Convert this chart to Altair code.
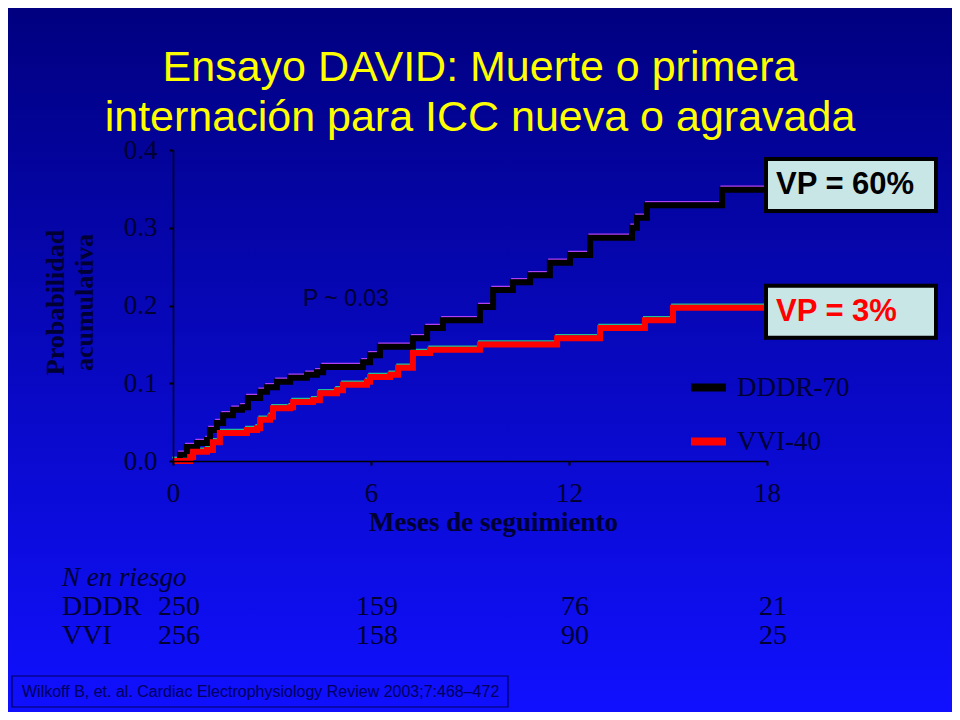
import altair as alt
import pandas as pd

# ---------------- data ----------------
title_lines = ["Ensayo DAVID: Muerte o primera", "internación para ICC nueva o agravada"]

series_names = ["DDDR-70", "VVI-40"]
series_colors = ["#000000", "#ff0000"]
shadow_colors = ["#b040f0", "#20c090"]

dddr_months = [0, 0.21, 0.42, 0.73, 1.03, 1.12, 1.33, 1.52, 1.82, 2.09, 2.27, 2.64, 2.85,
               3.15, 3.55, 4.06, 4.36, 4.55, 5.76, 5.97, 6.27, 7.27, 7.70, 8.18, 9.30,
               9.70, 10.30, 10.82, 11.42, 12.03, 12.64, 13.91, 14.06, 14.36, 16.64, 18]
dddr_prob = [0, 0.008, 0.018, 0.023, 0.027, 0.040, 0.049, 0.059, 0.066, 0.069, 0.081,
             0.089, 0.095, 0.102, 0.107, 0.111, 0.114, 0.121, 0.127, 0.136, 0.147, 0.158,
             0.171, 0.181, 0.198, 0.220, 0.230, 0.239, 0.255, 0.265, 0.287, 0.300, 0.313,
             0.329, 0.349, 0.349]

vvi_months = [0, 0.52, 0.61, 1.03, 1.21, 1.42, 2.24, 2.55, 2.64, 2.94, 3.03, 3.55, 3.64,
              4.24, 4.45, 4.97, 5.15, 5.88, 5.97, 6.58, 6.82, 7.27, 7.79, 9.30, 11.64,
              12.94, 14.30, 15.15, 18]
vvi_prob = [0, 0.005, 0.012, 0.014, 0.024, 0.036, 0.040, 0.042, 0.053, 0.057, 0.068,
            0.069, 0.076, 0.078, 0.087, 0.091, 0.098, 0.102, 0.108, 0.111, 0.120, 0.139,
            0.143, 0.150, 0.158, 0.171, 0.181, 0.197, 0.197]

x_ticks = [0, 6, 12, 18]
y_ticks = [0.0, 0.1, 0.2, 0.3, 0.4]

vp_labels = ["VP = 60%", "VP = 3%"]
vp_centers = [0.355, 0.192]

p_label = "P ~ 0.03"

risk_header = "N en riesgo"
risk_groups = ["DDDR", "VVI"]
risk_months = [0, 6, 12, 18]
risk_dddr = [250, 159, 76, 21]
risk_vvi = [256, 158, 90, 25]

citation = "Wilkoff B, et. al. Cardiac Electrophysiology Review 2003;7:468\u2013472"

# ---------------- layout ----------------
W, H = 594, 311
PAD = {"left": 165, "top": 142, "right": 185, "bottom": 251}
SERIF = "Liberation Serif"
SANS = "Liberation Sans"
DARK = "#000033"

curves = pd.concat([
    pd.DataFrame({"month": dddr_months, "prob": dddr_prob, "series": series_names[0]}),
    pd.DataFrame({"month": vvi_months, "prob": vvi_prob, "series": series_names[1]}),
], ignore_index=True)

one = pd.DataFrame({"a": [0]})

xscale = alt.Scale(domain=[0, 18], nice=False, zero=False)
yscale = alt.Scale(domain=[0, 0.4], nice=False, zero=False)

bg = alt.Chart(one).mark_rect(
    fill=alt.Gradient(
        gradient="linear",
        stops=[alt.GradientStop(color="#000080", offset=0),
               alt.GradientStop(color="#1010ff", offset=1)],
        x1=0, x2=0, y1=0, y2=1,
    )
).encode(
    x=alt.value(-PAD["left"]), x2=alt.value(W + PAD["right"]),
    y=alt.value(-PAD["top"]), y2=alt.value(H + PAD["bottom"]),
)

x_axis = alt.Axis(
    values=x_ticks, title="Meses de seguimiento", grid=False, zindex=1,
    domainColor="#000000", domainWidth=1.5, tickColor="#000000", tickWidth=2, tickSize=4,
    labelFont=SERIF, labelFontSize=27, labelColor=DARK, labelPadding=15,
    labelFlush=False, labelOverlap=False, labelBound=False,
    titleFont=SERIF, titleFontSize=27, titleFontWeight="bold", titleColor=DARK,
    titleX=320, titleY=61, titleBaseline="middle", titleAlign="center",
)
y_axis = alt.Axis(
    values=y_ticks, format=".1f", title=["Probabilidad", "acumulativa"], grid=False, zindex=1,
    domainColor="#000000", domainWidth=1.5, tickColor="#000000", tickWidth=2, tickSize=4,
    labelFont=SERIF, labelFontSize=27, labelColor=DARK, labelPadding=12,
    labelFlush=False, labelOverlap=False, labelBound=False,
    titleFont=SERIF, titleFontSize=26, titleFontWeight="bold", titleColor=DARK,
    titleAngle=-90, titleLineHeight=29, titleX=-131, titleY=152,
    titleAlign="center", titleBaseline="top",
)

X = alt.X("month:Q", scale=xscale, axis=x_axis)
Y = alt.Y("prob:Q", scale=yscale, axis=y_axis)

shadows = []
for name, col in zip(series_names, shadow_colors):
    shadows.append(
        alt.Chart(curves).transform_filter(alt.datum.series == name)
        .mark_line(interpolate="step-after", strokeWidth=1.5, yOffset=-3.5, xOffset=-1,
                   stroke=col)
        .encode(x=X, y=Y)
    )

lines = alt.Chart(curves).mark_line(interpolate="step-after", strokeWidth=6).encode(
    x=X, y=Y,
    color=alt.Color(
        "series:N",
        scale=alt.Scale(domain=series_names, range=series_colors),
        legend=alt.Legend(
            orient="none", legendX=514, legendY=216, direction="vertical", title=None,
            symbolType="stroke", symbolSize=1225, symbolStrokeWidth=8,
            labelFont=SERIF, labelFontSize=27, labelColor=DARK, labelOffset=7,
            rowPadding=16, padding=0,
        ),
    ),
)

vp_df = pd.DataFrame({"label": vp_labels, "prob": vp_centers, "series": series_names})

boxes = alt.Chart(vp_df).transform_calculate(
    y_lo="datum.prob - 0.0335", y_hi="datum.prob + 0.0335"
).mark_rect(fill="#c8e6e6", stroke="#000000", strokeWidth=4).encode(
    x=alt.value(593), x2=alt.value(763),
    y=alt.Y("y_lo:Q", scale=yscale, axis=y_axis), y2="y_hi:Q",
)

vp_texts = []
for lab, col in zip(vp_labels, series_colors):
    vp_texts.append(
        alt.Chart(vp_df).transform_filter(alt.datum.label == lab)
        .mark_text(font=SANS, fontSize=31, fontWeight="bold", align="left",
                   baseline="middle", color=col)
        .encode(x=alt.value(603), y=Y, text="label:N")
    )

p_text = alt.Chart(pd.DataFrame({"t": [p_label]})).mark_text(
    font=SANS, fontSize=23, align="left", baseline="middle", color=DARK
).encode(x=alt.value(130), y=alt.value(149), text="t:N")

# risk table
risk_rows = []
for grp, vals, yy in zip(risk_groups, [risk_dddr, risk_vvi], [457, 486]):
    df = pd.DataFrame({"month": risk_months, "n": vals})
    risk_rows.append(
        alt.Chart(df).mark_text(font=SERIF, fontSize=28, align="center",
                                baseline="middle", color=DARK, dx=6)
        .encode(x=X, y=alt.value(yy), text="n:Q")
    )
    risk_rows.append(
        alt.Chart(pd.DataFrame({"g": [grp]})).mark_text(
            font=SERIF, fontSize=28, align="left", baseline="middle", color=DARK)
        .encode(x=alt.value(-111), y=alt.value(yy), text="g:N")
    )
risk_head = alt.Chart(pd.DataFrame({"h": [risk_header]})).mark_text(
    font=SERIF, fontSize=27, fontStyle="italic", align="left", baseline="middle", color=DARK
).encode(x=alt.value(-111), y=alt.value(428), text="h:N")

cite_box = alt.Chart(one).mark_rect(fillOpacity=0, stroke="#000060", strokeWidth=1.2).encode(
    x=alt.value(-161), x2=alt.value(335), y=alt.value(526), y2=alt.value(557)
)
cite_text = alt.Chart(pd.DataFrame({"c": [citation]})).mark_text(
    font=SANS, fontSize=16, align="left", baseline="middle", color="#000060"
).encode(x=alt.value(-151), y=alt.value(541.5), text="c:N")

chart = alt.layer(
    bg, *shadows, lines, boxes, *vp_texts, p_text, *risk_rows, risk_head, cite_box, cite_text
).properties(
    width=W, height=H,
    padding=PAD,
    autosize=alt.AutoSizeParams(type="none"),
    title=alt.TitleParams(
        text=title_lines, font=SANS, fontSize=43, fontWeight="normal", color="#ffff00",
        lineHeight=50, anchor="middle", dx=10, offset=-166, baseline="alphabetic",
    ),
).configure(background="#0808c0").configure_view(strokeWidth=0)

chart.save("out.html", embed_options={"renderer": "svg", "actions": False})
